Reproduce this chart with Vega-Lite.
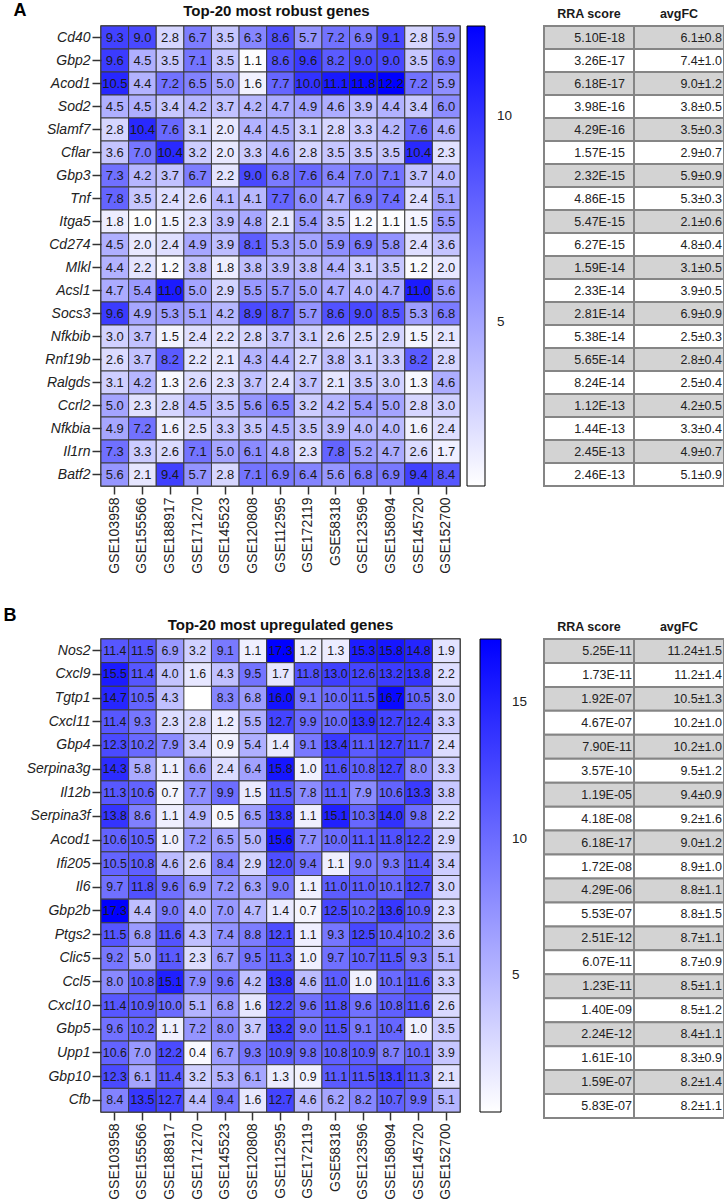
{
"$schema":"https://vega.github.io/schema/vega-lite/v6.json",
"padding":{"left":0,"top":0,"right":0,"bottom":0},
"background":"white",
"config":{"font":"Liberation Sans","view":{"stroke":null}},
"datasets":{
"A":[
{"g":"Cd40","s":"GSE103958","v":9.3},{"g":"Cd40","s":"GSE155566","v":9.0},{"g":"Cd40","s":"GSE188917","v":2.8},{"g":"Cd40","s":"GSE171270","v":6.7},{"g":"Cd40","s":"GSE145523","v":3.5},{"g":"Cd40","s":"GSE120808","v":6.3},{"g":"Cd40","s":"GSE112595","v":8.6},{"g":"Cd40","s":"GSE172119","v":5.7},{"g":"Cd40","s":"GSE58318","v":7.2},{"g":"Cd40","s":"GSE123596","v":6.9},{"g":"Cd40","s":"GSE158094","v":9.1},{"g":"Cd40","s":"GSE145720","v":2.8},{"g":"Cd40","s":"GSE152700","v":5.9},
{"g":"Gbp2","s":"GSE103958","v":9.6},{"g":"Gbp2","s":"GSE155566","v":4.5},{"g":"Gbp2","s":"GSE188917","v":3.5},{"g":"Gbp2","s":"GSE171270","v":7.1},{"g":"Gbp2","s":"GSE145523","v":3.5},{"g":"Gbp2","s":"GSE120808","v":1.1},{"g":"Gbp2","s":"GSE112595","v":8.6},{"g":"Gbp2","s":"GSE172119","v":9.6},{"g":"Gbp2","s":"GSE58318","v":8.2},{"g":"Gbp2","s":"GSE123596","v":9.0},{"g":"Gbp2","s":"GSE158094","v":9.0},{"g":"Gbp2","s":"GSE145720","v":3.5},{"g":"Gbp2","s":"GSE152700","v":6.9},
{"g":"Acod1","s":"GSE103958","v":10.5},{"g":"Acod1","s":"GSE155566","v":4.4},{"g":"Acod1","s":"GSE188917","v":7.2},{"g":"Acod1","s":"GSE171270","v":6.5},{"g":"Acod1","s":"GSE145523","v":5.0},{"g":"Acod1","s":"GSE120808","v":1.6},{"g":"Acod1","s":"GSE112595","v":7.7},{"g":"Acod1","s":"GSE172119","v":10.0},{"g":"Acod1","s":"GSE58318","v":11.1},{"g":"Acod1","s":"GSE123596","v":11.8},{"g":"Acod1","s":"GSE158094","v":12.2},{"g":"Acod1","s":"GSE145720","v":7.2},{"g":"Acod1","s":"GSE152700","v":5.9},
{"g":"Sod2","s":"GSE103958","v":4.5},{"g":"Sod2","s":"GSE155566","v":4.5},{"g":"Sod2","s":"GSE188917","v":3.4},{"g":"Sod2","s":"GSE171270","v":4.2},{"g":"Sod2","s":"GSE145523","v":3.7},{"g":"Sod2","s":"GSE120808","v":4.2},{"g":"Sod2","s":"GSE112595","v":4.7},{"g":"Sod2","s":"GSE172119","v":4.9},{"g":"Sod2","s":"GSE58318","v":4.6},{"g":"Sod2","s":"GSE123596","v":3.9},{"g":"Sod2","s":"GSE158094","v":4.4},{"g":"Sod2","s":"GSE145720","v":3.4},{"g":"Sod2","s":"GSE152700","v":6.0},
{"g":"Slamf7","s":"GSE103958","v":2.8},{"g":"Slamf7","s":"GSE155566","v":10.4},{"g":"Slamf7","s":"GSE188917","v":7.6},{"g":"Slamf7","s":"GSE171270","v":3.1},{"g":"Slamf7","s":"GSE145523","v":2.0},{"g":"Slamf7","s":"GSE120808","v":4.4},{"g":"Slamf7","s":"GSE112595","v":4.5},{"g":"Slamf7","s":"GSE172119","v":3.1},{"g":"Slamf7","s":"GSE58318","v":2.8},{"g":"Slamf7","s":"GSE123596","v":3.3},{"g":"Slamf7","s":"GSE158094","v":4.2},{"g":"Slamf7","s":"GSE145720","v":7.6},{"g":"Slamf7","s":"GSE152700","v":4.6},
{"g":"Cflar","s":"GSE103958","v":3.6},{"g":"Cflar","s":"GSE155566","v":7.0},{"g":"Cflar","s":"GSE188917","v":10.4},{"g":"Cflar","s":"GSE171270","v":3.2},{"g":"Cflar","s":"GSE145523","v":2.0},{"g":"Cflar","s":"GSE120808","v":3.3},{"g":"Cflar","s":"GSE112595","v":4.6},{"g":"Cflar","s":"GSE172119","v":2.8},{"g":"Cflar","s":"GSE58318","v":3.5},{"g":"Cflar","s":"GSE123596","v":3.5},{"g":"Cflar","s":"GSE158094","v":3.5},{"g":"Cflar","s":"GSE145720","v":10.4},{"g":"Cflar","s":"GSE152700","v":2.3},
{"g":"Gbp3","s":"GSE103958","v":7.3},{"g":"Gbp3","s":"GSE155566","v":4.2},{"g":"Gbp3","s":"GSE188917","v":3.7},{"g":"Gbp3","s":"GSE171270","v":6.7},{"g":"Gbp3","s":"GSE145523","v":2.2},{"g":"Gbp3","s":"GSE120808","v":9.0},{"g":"Gbp3","s":"GSE112595","v":6.8},{"g":"Gbp3","s":"GSE172119","v":7.6},{"g":"Gbp3","s":"GSE58318","v":6.4},{"g":"Gbp3","s":"GSE123596","v":7.0},{"g":"Gbp3","s":"GSE158094","v":7.1},{"g":"Gbp3","s":"GSE145720","v":3.7},{"g":"Gbp3","s":"GSE152700","v":4.0},
{"g":"Tnf","s":"GSE103958","v":7.8},{"g":"Tnf","s":"GSE155566","v":3.5},{"g":"Tnf","s":"GSE188917","v":2.4},{"g":"Tnf","s":"GSE171270","v":2.6},{"g":"Tnf","s":"GSE145523","v":4.1},{"g":"Tnf","s":"GSE120808","v":4.1},{"g":"Tnf","s":"GSE112595","v":7.7},{"g":"Tnf","s":"GSE172119","v":6.0},{"g":"Tnf","s":"GSE58318","v":4.7},{"g":"Tnf","s":"GSE123596","v":6.9},{"g":"Tnf","s":"GSE158094","v":7.4},{"g":"Tnf","s":"GSE145720","v":2.4},{"g":"Tnf","s":"GSE152700","v":5.1},
{"g":"Itga5","s":"GSE103958","v":1.8},{"g":"Itga5","s":"GSE155566","v":1.0},{"g":"Itga5","s":"GSE188917","v":1.5},{"g":"Itga5","s":"GSE171270","v":2.3},{"g":"Itga5","s":"GSE145523","v":3.9},{"g":"Itga5","s":"GSE120808","v":4.8},{"g":"Itga5","s":"GSE112595","v":2.1},{"g":"Itga5","s":"GSE172119","v":5.4},{"g":"Itga5","s":"GSE58318","v":3.5},{"g":"Itga5","s":"GSE123596","v":1.2},{"g":"Itga5","s":"GSE158094","v":1.1},{"g":"Itga5","s":"GSE145720","v":1.5},{"g":"Itga5","s":"GSE152700","v":5.5},
{"g":"Cd274","s":"GSE103958","v":4.5},{"g":"Cd274","s":"GSE155566","v":2.0},{"g":"Cd274","s":"GSE188917","v":2.4},{"g":"Cd274","s":"GSE171270","v":4.9},{"g":"Cd274","s":"GSE145523","v":3.9},{"g":"Cd274","s":"GSE120808","v":8.1},{"g":"Cd274","s":"GSE112595","v":5.3},{"g":"Cd274","s":"GSE172119","v":5.0},{"g":"Cd274","s":"GSE58318","v":5.9},{"g":"Cd274","s":"GSE123596","v":6.9},{"g":"Cd274","s":"GSE158094","v":5.8},{"g":"Cd274","s":"GSE145720","v":2.4},{"g":"Cd274","s":"GSE152700","v":3.6},
{"g":"Mlkl","s":"GSE103958","v":4.4},{"g":"Mlkl","s":"GSE155566","v":2.2},{"g":"Mlkl","s":"GSE188917","v":1.2},{"g":"Mlkl","s":"GSE171270","v":3.8},{"g":"Mlkl","s":"GSE145523","v":1.8},{"g":"Mlkl","s":"GSE120808","v":3.8},{"g":"Mlkl","s":"GSE112595","v":3.9},{"g":"Mlkl","s":"GSE172119","v":3.8},{"g":"Mlkl","s":"GSE58318","v":4.4},{"g":"Mlkl","s":"GSE123596","v":3.1},{"g":"Mlkl","s":"GSE158094","v":3.5},{"g":"Mlkl","s":"GSE145720","v":1.2},{"g":"Mlkl","s":"GSE152700","v":2.0},
{"g":"Acsl1","s":"GSE103958","v":4.7},{"g":"Acsl1","s":"GSE155566","v":5.4},{"g":"Acsl1","s":"GSE188917","v":11.0},{"g":"Acsl1","s":"GSE171270","v":5.0},{"g":"Acsl1","s":"GSE145523","v":2.9},{"g":"Acsl1","s":"GSE120808","v":5.5},{"g":"Acsl1","s":"GSE112595","v":5.7},{"g":"Acsl1","s":"GSE172119","v":5.0},{"g":"Acsl1","s":"GSE58318","v":4.7},{"g":"Acsl1","s":"GSE123596","v":4.0},{"g":"Acsl1","s":"GSE158094","v":4.7},{"g":"Acsl1","s":"GSE145720","v":11.0},{"g":"Acsl1","s":"GSE152700","v":5.6},
{"g":"Socs3","s":"GSE103958","v":9.6},{"g":"Socs3","s":"GSE155566","v":4.9},{"g":"Socs3","s":"GSE188917","v":5.3},{"g":"Socs3","s":"GSE171270","v":5.1},{"g":"Socs3","s":"GSE145523","v":4.2},{"g":"Socs3","s":"GSE120808","v":8.9},{"g":"Socs3","s":"GSE112595","v":8.7},{"g":"Socs3","s":"GSE172119","v":5.7},{"g":"Socs3","s":"GSE58318","v":8.6},{"g":"Socs3","s":"GSE123596","v":9.0},{"g":"Socs3","s":"GSE158094","v":8.5},{"g":"Socs3","s":"GSE145720","v":5.3},{"g":"Socs3","s":"GSE152700","v":6.8},
{"g":"Nfkbib","s":"GSE103958","v":3.0},{"g":"Nfkbib","s":"GSE155566","v":3.7},{"g":"Nfkbib","s":"GSE188917","v":1.5},{"g":"Nfkbib","s":"GSE171270","v":2.4},{"g":"Nfkbib","s":"GSE145523","v":2.2},{"g":"Nfkbib","s":"GSE120808","v":2.8},{"g":"Nfkbib","s":"GSE112595","v":3.7},{"g":"Nfkbib","s":"GSE172119","v":3.1},{"g":"Nfkbib","s":"GSE58318","v":2.6},{"g":"Nfkbib","s":"GSE123596","v":2.5},{"g":"Nfkbib","s":"GSE158094","v":2.9},{"g":"Nfkbib","s":"GSE145720","v":1.5},{"g":"Nfkbib","s":"GSE152700","v":2.1},
{"g":"Rnf19b","s":"GSE103958","v":2.6},{"g":"Rnf19b","s":"GSE155566","v":3.7},{"g":"Rnf19b","s":"GSE188917","v":8.2},{"g":"Rnf19b","s":"GSE171270","v":2.2},{"g":"Rnf19b","s":"GSE145523","v":2.1},{"g":"Rnf19b","s":"GSE120808","v":4.3},{"g":"Rnf19b","s":"GSE112595","v":4.4},{"g":"Rnf19b","s":"GSE172119","v":2.7},{"g":"Rnf19b","s":"GSE58318","v":3.8},{"g":"Rnf19b","s":"GSE123596","v":3.1},{"g":"Rnf19b","s":"GSE158094","v":3.3},{"g":"Rnf19b","s":"GSE145720","v":8.2},{"g":"Rnf19b","s":"GSE152700","v":2.8},
{"g":"Ralgds","s":"GSE103958","v":3.1},{"g":"Ralgds","s":"GSE155566","v":4.2},{"g":"Ralgds","s":"GSE188917","v":1.3},{"g":"Ralgds","s":"GSE171270","v":2.6},{"g":"Ralgds","s":"GSE145523","v":2.3},{"g":"Ralgds","s":"GSE120808","v":3.7},{"g":"Ralgds","s":"GSE112595","v":2.4},{"g":"Ralgds","s":"GSE172119","v":3.7},{"g":"Ralgds","s":"GSE58318","v":2.1},{"g":"Ralgds","s":"GSE123596","v":3.5},{"g":"Ralgds","s":"GSE158094","v":3.0},{"g":"Ralgds","s":"GSE145720","v":1.3},{"g":"Ralgds","s":"GSE152700","v":4.6},
{"g":"Ccrl2","s":"GSE103958","v":5.0},{"g":"Ccrl2","s":"GSE155566","v":2.3},{"g":"Ccrl2","s":"GSE188917","v":2.8},{"g":"Ccrl2","s":"GSE171270","v":4.5},{"g":"Ccrl2","s":"GSE145523","v":3.5},{"g":"Ccrl2","s":"GSE120808","v":5.6},{"g":"Ccrl2","s":"GSE112595","v":6.5},{"g":"Ccrl2","s":"GSE172119","v":3.2},{"g":"Ccrl2","s":"GSE58318","v":4.2},{"g":"Ccrl2","s":"GSE123596","v":5.4},{"g":"Ccrl2","s":"GSE158094","v":5.0},{"g":"Ccrl2","s":"GSE145720","v":2.8},{"g":"Ccrl2","s":"GSE152700","v":3.0},
{"g":"Nfkbia","s":"GSE103958","v":4.9},{"g":"Nfkbia","s":"GSE155566","v":7.2},{"g":"Nfkbia","s":"GSE188917","v":1.6},{"g":"Nfkbia","s":"GSE171270","v":2.5},{"g":"Nfkbia","s":"GSE145523","v":3.3},{"g":"Nfkbia","s":"GSE120808","v":3.5},{"g":"Nfkbia","s":"GSE112595","v":4.5},{"g":"Nfkbia","s":"GSE172119","v":3.5},{"g":"Nfkbia","s":"GSE58318","v":3.9},{"g":"Nfkbia","s":"GSE123596","v":4.0},{"g":"Nfkbia","s":"GSE158094","v":4.0},{"g":"Nfkbia","s":"GSE145720","v":1.6},{"g":"Nfkbia","s":"GSE152700","v":2.4},
{"g":"Il1rn","s":"GSE103958","v":7.3},{"g":"Il1rn","s":"GSE155566","v":3.3},{"g":"Il1rn","s":"GSE188917","v":2.6},{"g":"Il1rn","s":"GSE171270","v":7.1},{"g":"Il1rn","s":"GSE145523","v":5.0},{"g":"Il1rn","s":"GSE120808","v":6.1},{"g":"Il1rn","s":"GSE112595","v":4.8},{"g":"Il1rn","s":"GSE172119","v":2.3},{"g":"Il1rn","s":"GSE58318","v":7.8},{"g":"Il1rn","s":"GSE123596","v":5.2},{"g":"Il1rn","s":"GSE158094","v":4.7},{"g":"Il1rn","s":"GSE145720","v":2.6},{"g":"Il1rn","s":"GSE152700","v":1.7},
{"g":"Batf2","s":"GSE103958","v":5.6},{"g":"Batf2","s":"GSE155566","v":2.1},{"g":"Batf2","s":"GSE188917","v":9.4},{"g":"Batf2","s":"GSE171270","v":5.7},{"g":"Batf2","s":"GSE145523","v":2.8},{"g":"Batf2","s":"GSE120808","v":7.1},{"g":"Batf2","s":"GSE112595","v":6.9},{"g":"Batf2","s":"GSE172119","v":6.4},{"g":"Batf2","s":"GSE58318","v":5.6},{"g":"Batf2","s":"GSE123596","v":6.8},{"g":"Batf2","s":"GSE158094","v":6.9},{"g":"Batf2","s":"GSE145720","v":9.4},{"g":"Batf2","s":"GSE152700","v":8.4}
],
"B":[
{"g":"Nos2","s":"GSE103958","v":11.4},{"g":"Nos2","s":"GSE155566","v":11.5},{"g":"Nos2","s":"GSE188917","v":6.9},{"g":"Nos2","s":"GSE171270","v":3.2},{"g":"Nos2","s":"GSE145523","v":9.1},{"g":"Nos2","s":"GSE120808","v":1.1},{"g":"Nos2","s":"GSE112595","v":17.3},{"g":"Nos2","s":"GSE172119","v":1.2},{"g":"Nos2","s":"GSE58318","v":1.3},{"g":"Nos2","s":"GSE123596","v":15.3},{"g":"Nos2","s":"GSE158094","v":15.8},{"g":"Nos2","s":"GSE145720","v":14.8},{"g":"Nos2","s":"GSE152700","v":1.9},
{"g":"Cxcl9","s":"GSE103958","v":15.5},{"g":"Cxcl9","s":"GSE155566","v":11.4},{"g":"Cxcl9","s":"GSE188917","v":4.0},{"g":"Cxcl9","s":"GSE171270","v":1.6},{"g":"Cxcl9","s":"GSE145523","v":4.3},{"g":"Cxcl9","s":"GSE120808","v":9.5},{"g":"Cxcl9","s":"GSE112595","v":1.7},{"g":"Cxcl9","s":"GSE172119","v":11.8},{"g":"Cxcl9","s":"GSE58318","v":13.0},{"g":"Cxcl9","s":"GSE123596","v":12.6},{"g":"Cxcl9","s":"GSE158094","v":13.2},{"g":"Cxcl9","s":"GSE145720","v":13.8},{"g":"Cxcl9","s":"GSE152700","v":2.2},
{"g":"Tgtp1","s":"GSE103958","v":14.7},{"g":"Tgtp1","s":"GSE155566","v":10.5},{"g":"Tgtp1","s":"GSE188917","v":4.3},{"g":"Tgtp1","s":"GSE145523","v":8.3},{"g":"Tgtp1","s":"GSE120808","v":6.8},{"g":"Tgtp1","s":"GSE112595","v":16.0},{"g":"Tgtp1","s":"GSE172119","v":9.1},{"g":"Tgtp1","s":"GSE58318","v":10.0},{"g":"Tgtp1","s":"GSE123596","v":11.5},{"g":"Tgtp1","s":"GSE158094","v":16.7},{"g":"Tgtp1","s":"GSE145720","v":10.5},{"g":"Tgtp1","s":"GSE152700","v":3.0},
{"g":"Cxcl11","s":"GSE103958","v":11.4},{"g":"Cxcl11","s":"GSE155566","v":9.3},{"g":"Cxcl11","s":"GSE188917","v":2.3},{"g":"Cxcl11","s":"GSE171270","v":2.8},{"g":"Cxcl11","s":"GSE145523","v":1.2},{"g":"Cxcl11","s":"GSE120808","v":5.5},{"g":"Cxcl11","s":"GSE112595","v":12.7},{"g":"Cxcl11","s":"GSE172119","v":9.9},{"g":"Cxcl11","s":"GSE58318","v":10.0},{"g":"Cxcl11","s":"GSE123596","v":13.9},{"g":"Cxcl11","s":"GSE158094","v":12.7},{"g":"Cxcl11","s":"GSE145720","v":12.4},{"g":"Cxcl11","s":"GSE152700","v":3.3},
{"g":"Gbp4","s":"GSE103958","v":12.3},{"g":"Gbp4","s":"GSE155566","v":10.2},{"g":"Gbp4","s":"GSE188917","v":7.9},{"g":"Gbp4","s":"GSE171270","v":3.4},{"g":"Gbp4","s":"GSE145523","v":0.9},{"g":"Gbp4","s":"GSE120808","v":5.4},{"g":"Gbp4","s":"GSE112595","v":1.4},{"g":"Gbp4","s":"GSE172119","v":9.1},{"g":"Gbp4","s":"GSE58318","v":13.4},{"g":"Gbp4","s":"GSE123596","v":11.1},{"g":"Gbp4","s":"GSE158094","v":12.7},{"g":"Gbp4","s":"GSE145720","v":11.7},{"g":"Gbp4","s":"GSE152700","v":2.4},
{"g":"Serpina3g","s":"GSE103958","v":14.3},{"g":"Serpina3g","s":"GSE155566","v":5.8},{"g":"Serpina3g","s":"GSE188917","v":1.1},{"g":"Serpina3g","s":"GSE171270","v":6.6},{"g":"Serpina3g","s":"GSE145523","v":2.4},{"g":"Serpina3g","s":"GSE120808","v":6.4},{"g":"Serpina3g","s":"GSE112595","v":15.8},{"g":"Serpina3g","s":"GSE172119","v":1.0},{"g":"Serpina3g","s":"GSE58318","v":11.6},{"g":"Serpina3g","s":"GSE123596","v":10.8},{"g":"Serpina3g","s":"GSE158094","v":12.7},{"g":"Serpina3g","s":"GSE145720","v":8.0},{"g":"Serpina3g","s":"GSE152700","v":3.3},
{"g":"Il12b","s":"GSE103958","v":11.3},{"g":"Il12b","s":"GSE155566","v":10.6},{"g":"Il12b","s":"GSE188917","v":0.7},{"g":"Il12b","s":"GSE171270","v":7.7},{"g":"Il12b","s":"GSE145523","v":9.9},{"g":"Il12b","s":"GSE120808","v":1.5},{"g":"Il12b","s":"GSE112595","v":11.5},{"g":"Il12b","s":"GSE172119","v":7.8},{"g":"Il12b","s":"GSE58318","v":11.1},{"g":"Il12b","s":"GSE123596","v":7.9},{"g":"Il12b","s":"GSE158094","v":10.6},{"g":"Il12b","s":"GSE145720","v":13.3},{"g":"Il12b","s":"GSE152700","v":3.8},
{"g":"Serpina3f","s":"GSE103958","v":13.8},{"g":"Serpina3f","s":"GSE155566","v":8.6},{"g":"Serpina3f","s":"GSE188917","v":1.1},{"g":"Serpina3f","s":"GSE171270","v":4.9},{"g":"Serpina3f","s":"GSE145523","v":0.5},{"g":"Serpina3f","s":"GSE120808","v":6.5},{"g":"Serpina3f","s":"GSE112595","v":13.8},{"g":"Serpina3f","s":"GSE172119","v":1.1},{"g":"Serpina3f","s":"GSE58318","v":15.1},{"g":"Serpina3f","s":"GSE123596","v":10.3},{"g":"Serpina3f","s":"GSE158094","v":14.0},{"g":"Serpina3f","s":"GSE145720","v":9.8},{"g":"Serpina3f","s":"GSE152700","v":2.2},
{"g":"Acod1","s":"GSE103958","v":10.6},{"g":"Acod1","s":"GSE155566","v":10.5},{"g":"Acod1","s":"GSE188917","v":1.0},{"g":"Acod1","s":"GSE171270","v":7.2},{"g":"Acod1","s":"GSE145523","v":6.5},{"g":"Acod1","s":"GSE120808","v":5.0},{"g":"Acod1","s":"GSE112595","v":15.6},{"g":"Acod1","s":"GSE172119","v":7.7},{"g":"Acod1","s":"GSE58318","v":10.0},{"g":"Acod1","s":"GSE123596","v":11.1},{"g":"Acod1","s":"GSE158094","v":11.8},{"g":"Acod1","s":"GSE145720","v":12.2},{"g":"Acod1","s":"GSE152700","v":2.9},
{"g":"Ifi205","s":"GSE103958","v":10.5},{"g":"Ifi205","s":"GSE155566","v":10.8},{"g":"Ifi205","s":"GSE188917","v":4.6},{"g":"Ifi205","s":"GSE171270","v":2.6},{"g":"Ifi205","s":"GSE145523","v":8.4},{"g":"Ifi205","s":"GSE120808","v":2.9},{"g":"Ifi205","s":"GSE112595","v":12.0},{"g":"Ifi205","s":"GSE172119","v":9.4},{"g":"Ifi205","s":"GSE58318","v":1.1},{"g":"Ifi205","s":"GSE123596","v":9.0},{"g":"Ifi205","s":"GSE158094","v":9.3},{"g":"Ifi205","s":"GSE145720","v":11.4},{"g":"Ifi205","s":"GSE152700","v":3.4},
{"g":"Il6","s":"GSE103958","v":9.7},{"g":"Il6","s":"GSE155566","v":11.8},{"g":"Il6","s":"GSE188917","v":9.6},{"g":"Il6","s":"GSE171270","v":6.9},{"g":"Il6","s":"GSE145523","v":7.2},{"g":"Il6","s":"GSE120808","v":6.3},{"g":"Il6","s":"GSE112595","v":9.0},{"g":"Il6","s":"GSE172119","v":1.1},{"g":"Il6","s":"GSE58318","v":11.0},{"g":"Il6","s":"GSE123596","v":11.0},{"g":"Il6","s":"GSE158094","v":10.1},{"g":"Il6","s":"GSE145720","v":12.7},{"g":"Il6","s":"GSE152700","v":3.0},
{"g":"Gbp2b","s":"GSE103958","v":17.3},{"g":"Gbp2b","s":"GSE155566","v":4.4},{"g":"Gbp2b","s":"GSE188917","v":9.0},{"g":"Gbp2b","s":"GSE171270","v":4.0},{"g":"Gbp2b","s":"GSE145523","v":7.0},{"g":"Gbp2b","s":"GSE120808","v":4.7},{"g":"Gbp2b","s":"GSE112595","v":1.4},{"g":"Gbp2b","s":"GSE172119","v":0.7},{"g":"Gbp2b","s":"GSE58318","v":12.5},{"g":"Gbp2b","s":"GSE123596","v":10.2},{"g":"Gbp2b","s":"GSE158094","v":13.6},{"g":"Gbp2b","s":"GSE145720","v":10.9},{"g":"Gbp2b","s":"GSE152700","v":2.3},
{"g":"Ptgs2","s":"GSE103958","v":11.5},{"g":"Ptgs2","s":"GSE155566","v":6.8},{"g":"Ptgs2","s":"GSE188917","v":11.6},{"g":"Ptgs2","s":"GSE171270","v":4.3},{"g":"Ptgs2","s":"GSE145523","v":7.4},{"g":"Ptgs2","s":"GSE120808","v":8.8},{"g":"Ptgs2","s":"GSE112595","v":12.1},{"g":"Ptgs2","s":"GSE172119","v":1.1},{"g":"Ptgs2","s":"GSE58318","v":9.3},{"g":"Ptgs2","s":"GSE123596","v":12.5},{"g":"Ptgs2","s":"GSE158094","v":10.4},{"g":"Ptgs2","s":"GSE145720","v":10.2},{"g":"Ptgs2","s":"GSE152700","v":3.6},
{"g":"Clic5","s":"GSE103958","v":9.2},{"g":"Clic5","s":"GSE155566","v":5.0},{"g":"Clic5","s":"GSE188917","v":11.1},{"g":"Clic5","s":"GSE171270","v":2.3},{"g":"Clic5","s":"GSE145523","v":6.7},{"g":"Clic5","s":"GSE120808","v":9.5},{"g":"Clic5","s":"GSE112595","v":11.3},{"g":"Clic5","s":"GSE172119","v":1.0},{"g":"Clic5","s":"GSE58318","v":9.7},{"g":"Clic5","s":"GSE123596","v":10.7},{"g":"Clic5","s":"GSE158094","v":11.5},{"g":"Clic5","s":"GSE145720","v":9.3},{"g":"Clic5","s":"GSE152700","v":5.1},
{"g":"Ccl5","s":"GSE103958","v":8.0},{"g":"Ccl5","s":"GSE155566","v":10.8},{"g":"Ccl5","s":"GSE188917","v":15.1},{"g":"Ccl5","s":"GSE171270","v":7.9},{"g":"Ccl5","s":"GSE145523","v":9.6},{"g":"Ccl5","s":"GSE120808","v":4.2},{"g":"Ccl5","s":"GSE112595","v":13.8},{"g":"Ccl5","s":"GSE172119","v":4.6},{"g":"Ccl5","s":"GSE58318","v":11.0},{"g":"Ccl5","s":"GSE123596","v":1.0},{"g":"Ccl5","s":"GSE158094","v":10.1},{"g":"Ccl5","s":"GSE145720","v":11.6},{"g":"Ccl5","s":"GSE152700","v":3.3},
{"g":"Cxcl10","s":"GSE103958","v":11.4},{"g":"Cxcl10","s":"GSE155566","v":10.9},{"g":"Cxcl10","s":"GSE188917","v":10.0},{"g":"Cxcl10","s":"GSE171270","v":5.1},{"g":"Cxcl10","s":"GSE145523","v":6.8},{"g":"Cxcl10","s":"GSE120808","v":1.6},{"g":"Cxcl10","s":"GSE112595","v":12.2},{"g":"Cxcl10","s":"GSE172119","v":9.6},{"g":"Cxcl10","s":"GSE58318","v":11.8},{"g":"Cxcl10","s":"GSE123596","v":9.6},{"g":"Cxcl10","s":"GSE158094","v":10.8},{"g":"Cxcl10","s":"GSE145720","v":11.6},{"g":"Cxcl10","s":"GSE152700","v":2.6},
{"g":"Gbp5","s":"GSE103958","v":9.6},{"g":"Gbp5","s":"GSE155566","v":10.2},{"g":"Gbp5","s":"GSE188917","v":1.1},{"g":"Gbp5","s":"GSE171270","v":7.2},{"g":"Gbp5","s":"GSE145523","v":8.0},{"g":"Gbp5","s":"GSE120808","v":3.7},{"g":"Gbp5","s":"GSE112595","v":13.2},{"g":"Gbp5","s":"GSE172119","v":9.0},{"g":"Gbp5","s":"GSE58318","v":11.5},{"g":"Gbp5","s":"GSE123596","v":9.1},{"g":"Gbp5","s":"GSE158094","v":10.4},{"g":"Gbp5","s":"GSE145720","v":1.0},{"g":"Gbp5","s":"GSE152700","v":3.5},
{"g":"Upp1","s":"GSE103958","v":10.6},{"g":"Upp1","s":"GSE155566","v":7.0},{"g":"Upp1","s":"GSE188917","v":12.2},{"g":"Upp1","s":"GSE171270","v":0.4},{"g":"Upp1","s":"GSE145523","v":6.7},{"g":"Upp1","s":"GSE120808","v":9.3},{"g":"Upp1","s":"GSE112595","v":10.9},{"g":"Upp1","s":"GSE172119","v":9.8},{"g":"Upp1","s":"GSE58318","v":10.8},{"g":"Upp1","s":"GSE123596","v":10.9},{"g":"Upp1","s":"GSE158094","v":8.7},{"g":"Upp1","s":"GSE145720","v":10.1},{"g":"Upp1","s":"GSE152700","v":3.9},
{"g":"Gbp10","s":"GSE103958","v":12.3},{"g":"Gbp10","s":"GSE155566","v":6.1},{"g":"Gbp10","s":"GSE188917","v":11.4},{"g":"Gbp10","s":"GSE171270","v":3.2},{"g":"Gbp10","s":"GSE145523","v":5.3},{"g":"Gbp10","s":"GSE120808","v":6.1},{"g":"Gbp10","s":"GSE112595","v":1.3},{"g":"Gbp10","s":"GSE172119","v":0.9},{"g":"Gbp10","s":"GSE58318","v":11.1},{"g":"Gbp10","s":"GSE123596","v":11.5},{"g":"Gbp10","s":"GSE158094","v":13.1},{"g":"Gbp10","s":"GSE145720","v":11.3},{"g":"Gbp10","s":"GSE152700","v":2.1},
{"g":"Cfb","s":"GSE103958","v":8.4},{"g":"Cfb","s":"GSE155566","v":13.5},{"g":"Cfb","s":"GSE188917","v":12.7},{"g":"Cfb","s":"GSE171270","v":4.4},{"g":"Cfb","s":"GSE145523","v":9.4},{"g":"Cfb","s":"GSE120808","v":1.6},{"g":"Cfb","s":"GSE112595","v":12.7},{"g":"Cfb","s":"GSE172119","v":4.6},{"g":"Cfb","s":"GSE58318","v":6.2},{"g":"Cfb","s":"GSE123596","v":8.2},{"g":"Cfb","s":"GSE158094","v":10.7},{"g":"Cfb","s":"GSE145720","v":9.9},{"g":"Cfb","s":"GSE152700","v":5.1}
],
"TA":[
{"r":1,"c":"RRA score","t":"5.10E-18"},{"r":1,"c":"avgFC","t":"6.1±0.8"},
{"r":2,"c":"RRA score","t":"3.26E-17"},{"r":2,"c":"avgFC","t":"7.4±1.0"},
{"r":3,"c":"RRA score","t":"6.18E-17"},{"r":3,"c":"avgFC","t":"9.0±1.2"},
{"r":4,"c":"RRA score","t":"3.98E-16"},{"r":4,"c":"avgFC","t":"3.8±0.5"},
{"r":5,"c":"RRA score","t":"4.29E-16"},{"r":5,"c":"avgFC","t":"3.5±0.3"},
{"r":6,"c":"RRA score","t":"1.57E-15"},{"r":6,"c":"avgFC","t":"2.9±0.7"},
{"r":7,"c":"RRA score","t":"2.32E-15"},{"r":7,"c":"avgFC","t":"5.9±0.9"},
{"r":8,"c":"RRA score","t":"4.86E-15"},{"r":8,"c":"avgFC","t":"5.3±0.3"},
{"r":9,"c":"RRA score","t":"5.47E-15"},{"r":9,"c":"avgFC","t":"2.1±0.6"},
{"r":10,"c":"RRA score","t":"6.27E-15"},{"r":10,"c":"avgFC","t":"4.8±0.4"},
{"r":11,"c":"RRA score","t":"1.59E-14"},{"r":11,"c":"avgFC","t":"3.1±0.5"},
{"r":12,"c":"RRA score","t":"2.33E-14"},{"r":12,"c":"avgFC","t":"3.9±0.5"},
{"r":13,"c":"RRA score","t":"2.81E-14"},{"r":13,"c":"avgFC","t":"6.9±0.9"},
{"r":14,"c":"RRA score","t":"5.38E-14"},{"r":14,"c":"avgFC","t":"2.5±0.3"},
{"r":15,"c":"RRA score","t":"5.65E-14"},{"r":15,"c":"avgFC","t":"2.8±0.4"},
{"r":16,"c":"RRA score","t":"8.24E-14"},{"r":16,"c":"avgFC","t":"2.5±0.4"},
{"r":17,"c":"RRA score","t":"1.12E-13"},{"r":17,"c":"avgFC","t":"4.2±0.5"},
{"r":18,"c":"RRA score","t":"1.44E-13"},{"r":18,"c":"avgFC","t":"3.3±0.4"},
{"r":19,"c":"RRA score","t":"2.45E-13"},{"r":19,"c":"avgFC","t":"4.9±0.7"},
{"r":20,"c":"RRA score","t":"2.46E-13"},{"r":20,"c":"avgFC","t":"5.1±0.9"}
],
"TB":[
{"r":1,"c":"RRA score","t":"5.25E-11"},{"r":1,"c":"avgFC","t":"11.24±1.5"},
{"r":2,"c":"RRA score","t":"1.73E-11"},{"r":2,"c":"avgFC","t":"11.2±1.4"},
{"r":3,"c":"RRA score","t":"1.92E-07"},{"r":3,"c":"avgFC","t":"10.5±1.3"},
{"r":4,"c":"RRA score","t":"4.67E-07"},{"r":4,"c":"avgFC","t":"10.2±1.0"},
{"r":5,"c":"RRA score","t":"7.90E-11"},{"r":5,"c":"avgFC","t":"10.2±1.0"},
{"r":6,"c":"RRA score","t":"3.57E-10"},{"r":6,"c":"avgFC","t":"9.5±1.2"},
{"r":7,"c":"RRA score","t":"1.19E-05"},{"r":7,"c":"avgFC","t":"9.4±0.9"},
{"r":8,"c":"RRA score","t":"4.18E-08"},{"r":8,"c":"avgFC","t":"9.2±1.6"},
{"r":9,"c":"RRA score","t":"6.18E-17"},{"r":9,"c":"avgFC","t":"9.0±1.2"},
{"r":10,"c":"RRA score","t":"1.72E-08"},{"r":10,"c":"avgFC","t":"8.9±1.0"},
{"r":11,"c":"RRA score","t":"4.29E-06"},{"r":11,"c":"avgFC","t":"8.8±1.1"},
{"r":12,"c":"RRA score","t":"5.53E-07"},{"r":12,"c":"avgFC","t":"8.8±1.5"},
{"r":13,"c":"RRA score","t":"2.51E-12"},{"r":13,"c":"avgFC","t":"8.7±1.1"},
{"r":14,"c":"RRA score","t":"6.07E-11"},{"r":14,"c":"avgFC","t":"8.7±0.9"},
{"r":15,"c":"RRA score","t":"1.23E-11"},{"r":15,"c":"avgFC","t":"8.5±1.1"},
{"r":16,"c":"RRA score","t":"1.40E-09"},{"r":16,"c":"avgFC","t":"8.5±1.2"},
{"r":17,"c":"RRA score","t":"2.24E-12"},{"r":17,"c":"avgFC","t":"8.4±1.1"},
{"r":18,"c":"RRA score","t":"1.61E-10"},{"r":18,"c":"avgFC","t":"8.3±0.9"},
{"r":19,"c":"RRA score","t":"1.59E-07"},{"r":19,"c":"avgFC","t":"8.2±1.4"},
{"r":20,"c":"RRA score","t":"5.83E-07"},{"r":20,"c":"avgFC","t":"8.2±1.1"}
]
},
"vconcat":[
{
"hconcat":[
{
"width":359,"height":460,
"data":{"name":"A"},
"view":{"stroke":"#2a2a2a","strokeWidth":1.5},
"title":{"text":"Top-20 most robust genes","fontSize":15,"fontWeight":"bold","frame":"group","anchor":"middle","offset":-18,"dx":-4,"color":"#111111"},
"encoding":{
"x":{"field":"s","type":"nominal","sort":null,"scale":{"paddingInner":0,"paddingOuter":0},"axis":{"title":null,"labelAngle":-90,"labelFontSize":14,"labelColor":"#222222","tickSize":8,"tickColor":"#333333","tickWidth":1.5,"labelPadding":3,"domain":false}},
"y":{"field":"g","type":"nominal","sort":null,"scale":{"paddingInner":0,"paddingOuter":0},"axis":{"title":"A","titleAngle":0,"titleX":-88,"titleY":-16,"titleAlign":"left","titleBaseline":"middle","titleFontSize":18,"titleFontWeight":"bold","titleColor":"#000000","minExtent":100,"labelFontSize":14,"labelFontStyle":"italic","labelColor":"#222222","tickSize":9,"tickColor":"#333333","tickWidth":1.5,"labelPadding":2,"domain":false}}
},
"layer":[
{"mark":{"type":"rect","stroke":"#3c3c3c","strokeWidth":1},
"encoding":{"color":{"field":"v","type":"quantitative","scale":{"domain":[1.0,12.2],"range":["#ffffff","#0000ff"],"interpolate":"rgb"},
"legend":{"title":null,"orient":"right","offset":7,"direction":"vertical","gradientLength":460,"gradientThickness":18,"gradientStrokeColor":"#000000","gradientStrokeWidth":1,"values":[5,10],"labelFontSize":13.5,"labelOffset":12,"labelColor":"#222222","padding":0}}}},
{"mark":{"type":"text","fontSize":13,"color":"#1a1a1a"},
"encoding":{"text":{"field":"v","type":"quantitative","format":".1f"}}}
]
},
{
"width":180,"height":460,
"data":{"name":"TA"},
"encoding":{
"x":{"field":"c","type":"nominal","sort":["RRA score","avgFC"],"scale":{"paddingInner":0,"paddingOuter":0},"axis":{"orient":"top","title":null,"labelAngle":0,"domain":false,"ticks":false,"labelFontWeight":"bold","labelFontSize":12.5,"labelColor":"#1a1a1a","labelPadding":6}},
"y":{"field":"r","type":"ordinal","axis":null,"scale":{"paddingInner":0,"paddingOuter":0}}
},
"layer":[
{"mark":{"type":"rect","stroke":"#858585","strokeWidth":2},
"encoding":{"fill":{"condition":{"test":"datum.r % 2 === 1","value":"#d3d3d3"},"value":"#ffffff"}}},
{"transform":[{"filter":"datum.c === 'RRA score'"}],
"mark":{"type":"text","align":"right","dx":-9,"fontSize":12.5,"color":"#222222"},
"encoding":{"x":{"field":"c","type":"nominal","sort":["RRA score","avgFC"],"bandPosition":1,"axis":{"orient":"top","title":null,"labelAngle":0,"domain":false,"ticks":false,"labelFontWeight":"bold","labelFontSize":12.5,"labelColor":"#1a1a1a","labelPadding":6}},"text":{"field":"t"}}},
{"transform":[{"filter":"datum.c === 'avgFC'"}],
"mark":{"type":"text","align":"right","dx":-2,"fontSize":12.5,"color":"#222222"},
"encoding":{"x":{"field":"c","type":"nominal","sort":["RRA score","avgFC"],"bandPosition":1,"axis":{"orient":"top","title":null,"labelAngle":0,"domain":false,"ticks":false,"labelFontWeight":"bold","labelFontSize":12.5,"labelColor":"#1a1a1a","labelPadding":6}},"text":{"field":"t"}}}
]
}
],
"spacing":84,
"bounds":"flush",
"resolve":{"scale":{"x":"independent","y":"independent","color":"independent"},"legend":{"color":"independent"}}
},
{
"hconcat":[
{
"width":359,"height":473,
"data":{"name":"B"},
"view":{"stroke":"#2a2a2a","strokeWidth":1.5},
"title":{"text":"Top-20 most upregulated genes","fontSize":15,"fontWeight":"bold","frame":"group","anchor":"middle","offset":-27,"color":"#111111"},
"encoding":{
"x":{"field":"s","type":"nominal","sort":null,"scale":{"paddingInner":0,"paddingOuter":0},"axis":{"title":null,"labelAngle":-90,"labelFontSize":14,"labelColor":"#222222","tickSize":8,"tickColor":"#333333","tickWidth":1.5,"labelPadding":3,"domain":false}},
"y":{"field":"g","type":"nominal","sort":null,"scale":{"paddingInner":0,"paddingOuter":0},"axis":{"title":"B","titleAngle":0,"titleX":-98,"titleY":-24,"titleAlign":"left","titleBaseline":"middle","titleFontSize":18,"titleFontWeight":"bold","titleColor":"#000000","minExtent":100,"labelFontSize":14,"labelFontStyle":"italic","labelColor":"#222222","tickSize":9,"tickColor":"#333333","tickWidth":1.5,"labelPadding":2,"domain":false}}
},
"layer":[
{"mark":{"type":"rect","stroke":"#3c3c3c","strokeWidth":1},
"encoding":{"color":{"field":"v","type":"quantitative","scale":{"domain":[0,17.3],"range":["#ffffff","#0000ff"],"interpolate":"rgb"},
"legend":{"title":null,"orient":"right","offset":20,"direction":"vertical","gradientLength":473,"gradientThickness":21,"gradientStrokeColor":"#000000","gradientStrokeWidth":1,"values":[5,10,15],"labelFontSize":13.5,"labelOffset":11,"labelColor":"#222222","padding":0}}}},
{"mark":{"type":"text","fontSize":12.3,"color":"#1a1a1a"},
"encoding":{"text":{"field":"v","type":"quantitative","format":".1f"}}}
]
},
{
"width":180,"height":479,
"data":{"name":"TB"},
"encoding":{
"x":{"field":"c","type":"nominal","sort":["RRA score","avgFC"],"scale":{"paddingInner":0,"paddingOuter":0},"axis":{"orient":"top","title":null,"labelAngle":0,"domain":false,"ticks":false,"labelFontWeight":"bold","labelFontSize":12.5,"labelColor":"#1a1a1a","labelPadding":6}},
"y":{"field":"r","type":"ordinal","axis":null,"scale":{"paddingInner":0,"paddingOuter":0}}
},
"layer":[
{"mark":{"type":"rect","stroke":"#858585","strokeWidth":2},
"encoding":{"fill":{"condition":{"test":"datum.r % 2 === 1","value":"#d3d3d3"},"value":"#ffffff"}}},
{"transform":[{"filter":"datum.c === 'RRA score'"}],
"mark":{"type":"text","align":"right","dx":-2,"fontSize":12.5,"color":"#222222"},
"encoding":{"x":{"field":"c","type":"nominal","sort":["RRA score","avgFC"],"bandPosition":1,"axis":{"orient":"top","title":null,"labelAngle":0,"domain":false,"ticks":false,"labelFontWeight":"bold","labelFontSize":12.5,"labelColor":"#1a1a1a","labelPadding":6}},"text":{"field":"t"}}},
{"transform":[{"filter":"datum.c === 'avgFC'"}],
"mark":{"type":"text","align":"right","dx":-2,"fontSize":12.5,"color":"#222222"},
"encoding":{"x":{"field":"c","type":"nominal","sort":["RRA score","avgFC"],"bandPosition":1,"axis":{"orient":"top","title":null,"labelAngle":0,"domain":false,"ticks":false,"labelFontWeight":"bold","labelFontSize":12.5,"labelColor":"#1a1a1a","labelPadding":6}},"text":{"field":"t"}}}
]
}
],
"spacing":84,
"bounds":"flush",
"resolve":{"scale":{"x":"independent","y":"independent","color":"independent"},"legend":{"color":"independent"}}
}
],
"spacing":30,
"resolve":{"scale":{"x":"independent","y":"independent","color":"independent"},"legend":{"color":"independent"}}
}
